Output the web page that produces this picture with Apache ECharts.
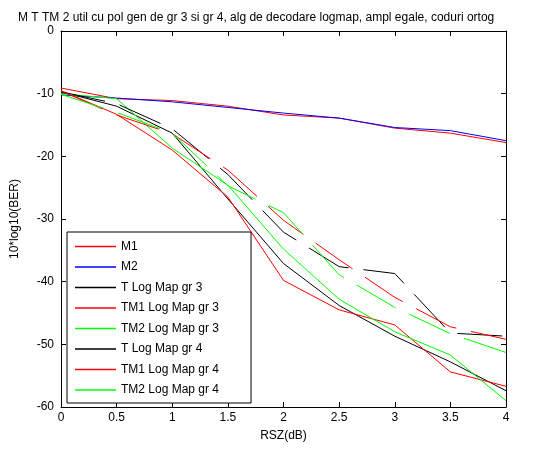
<!DOCTYPE html>
<html>
<head>
<meta charset="utf-8">
<script src="https://cdn.jsdelivr.net/npm/echarts@6/dist/echarts.min.js"></script>
<style>
  html, body { margin: 0; padding: 0; background: #fff; }
  #chart { width: 554px; height: 449px; }
</style>
</head>
<body>
<div id="chart"></div>
<script>
// x values (dB)
var rsz = [0, 0.5, 1, 1.5, 2, 2.5, 3, 3.5, 4];

// 10*log10(BER) for every curve
var m1       = [-9.1, -10.8, -11.1, -12.0, -13.4, -13.9, -15.5, -16.3, -17.8];
var m2       = [-10.2, -10.7, -11.3, -12.2, -13.1, -13.9, -15.4, -15.9, -17.5];
var tGr3     = [-9.7, -12.0, -16.3, -26.8, -37.1, -43.8, -48.7, -52.8, -57.4];
var tm1Gr3   = [-9.5, -13.3, -19.0, -26.5, -39.8, -44.5, -46.9, -54.4, -56.7];
var tm2Gr3   = [-10.0, -10.8, -18.7, -24.6, -34.8, -42.8, -48.0, -51.7, -59.0];
var tGr4     = [-9.7, -11.6, -15.6, -22.9, -32.1, -37.6, -38.7, -48.2, -48.7];
var tm1Gr4   = [-9.6, -13.4, -16.4, -22.2, -30.2, -36.5, -42.5, -47.2, -49.2];
var tm2Gr4   = [-10.1, -13.0, -16.3, -24.7, -29.0, -38.9, -44.1, -48.3, -51.3];

var names = ["M1", "M2", "T Log Map gr 3", "TM1 Log Map gr 3", "TM2 Log Map gr 3",
             "T Log Map gr 4", "TM1 Log Map gr 4", "TM2 Log Map gr 4"];
var values = [m1, m2, tGr3, tm1Gr3, tm2Gr3, tGr4, tm1Gr4, tm2Gr4];
var colors = ["#ff0000", "#0000ff", "#000000", "#ff0000", "#00ff00", "#000000", "#ff0000", "#00ff00"];
var dashed = [false, false, false, false, false, true, true, true];

var font = "Arial, 'Liberation Sans', Helvetica, sans-serif";

function pairs(ys) {
    return ys.map(function (y, i) { return [rsz[i], y]; });
}

var series = [];
for (var i = 0; i < names.length; i++) {
    series.push({
        name: names[i],
        type: "line",
        data: pairs(values[i]),
        symbol: "none",
        animation: false,
        lineStyle: {
            color: colors[i],
            width: 1,
            type: dashed[i] ? [45, 15] : "solid"
        },
        itemStyle: { color: colors[i] }
    });
}

var axisCommon = {
    axisLine: { show: true, onZero: false, lineStyle: { color: "#000", width: 1 } },
    axisTick: { show: true, inside: true, length: 5, lineStyle: { color: "#000" } },
    splitLine: { show: false }
};

var chart = echarts.init(document.getElementById("chart"), null, { renderer: "canvas" });
var option = {
    backgroundColor: "#fff",
    animation: false,
    textStyle: { fontFamily: font },
    title: {
        text: "M T TM 2 util cu pol gen de gr 3 si gr 4, alg de decodare logmap, ampl egale, coduri ortog",
        left: 13,
        top: 7,
        textStyle: { fontSize: 12, fontWeight: "normal", color: "#000", fontFamily: font }
    },
    grid: { left: 61, right: 48, top: 31, bottom: 42, containLabel: false },
    legend: {
        orient: "vertical",
        left: 67,
        top: 232,
        padding: [8.5, 32, 7, 8],
        icon: "rect",
        itemWidth: 41,
        itemHeight: 1.5,
        itemGap: 8.5,
        backgroundColor: "#fff",
        borderColor: "#000",
        borderWidth: 1,
        borderRadius: 0,
        textStyle: { fontSize: 12, color: "#000", fontFamily: font },
        data: names
    },
    xAxis: [
        Object.assign({}, axisCommon, {
            type: "value", min: 0, max: 4, interval: 0.5, position: "bottom",
            name: "RSZ(dB)", nameLocation: "middle", nameGap: 23,
            nameTextStyle: { fontSize: 12, color: "#000", fontFamily: font },
            axisLabel: { fontSize: 12, color: "#000", margin: 5, fontFamily: font }
        }),
        Object.assign({}, axisCommon, {
            type: "value", min: 0, max: 4, interval: 0.5, position: "top",
            axisLabel: { show: false }
        })
    ],
    yAxis: [
        Object.assign({}, axisCommon, {
            type: "value", min: -60, max: 0, interval: 10, position: "left",
            name: "10*log10(BER)", nameLocation: "middle", nameGap: 40,
            nameTextStyle: { fontSize: 12, color: "#000", fontFamily: font },
            axisLabel: { fontSize: 12, color: "#000", margin: 7, fontFamily: font }
        }),
        Object.assign({}, axisCommon, {
            type: "value", min: -60, max: 0, interval: 10, position: "right",
            axisLabel: { show: false }
        })
    ],
    series: series
};
chart.setOption(option);
</script>
</body>
</html>
